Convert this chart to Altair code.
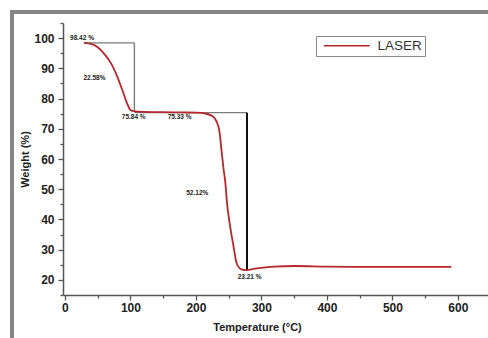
import altair as alt
import pandas as pd

# TGA curve of the LASER sample: temperature (°C) vs residual weight (%)
temp = [29, 40, 50, 60, 70, 80, 88, 95, 100, 104, 120, 150, 180, 200, 215,
        225, 232, 236, 239, 242, 245, 247, 252, 257, 262, 267, 272, 276,
        285, 300, 320, 350, 400, 450, 500, 550, 590]
weight = [98.42, 98.1, 97.0, 94.8, 91.8, 87.2, 82.6, 78.3, 76.2, 75.84, 75.6,
          75.5, 75.4, 75.33, 75.0, 74.2, 72.2, 69.0, 63.0, 57.0, 52.0, 46.5,
          38.0, 31.6, 25.6, 23.8, 23.3, 23.21, 23.5, 24.0, 24.4, 24.6, 24.4,
          24.3, 24.3, 24.3, 24.3]

# step construction lines marking the two weight-loss stages
step_x = [29, 106, 106, 278]
step_x2 = [106, 106, 278, 278]
step_y = [98.42, 98.42, 75.33, 75.33]
step_y2 = [98.42, 75.84, 75.33, 23.21]
step_col = ["#7a7a7a", "#7a7a7a", "#7a7a7a", "#111111"]

# annotations
ann_text = ["98.42 %", "22.58%", "75.84 %", "75.33 %", "52.12%", "23.21 %"]
ann_x = [26, 45, 105, 175, 202, 282]
ann_y = [100.0, 86.8, 73.9, 73.9, 48.8, 21.0]

curve = pd.DataFrame({"T": temp, "W": weight, "series": "LASER"})
steps = pd.DataFrame({"x": step_x, "x2": step_x2, "y": step_y, "y2": step_y2,
                      "c": step_col})
ann = pd.DataFrame({"T": ann_x, "W": ann_y, "t": ann_text})

W_PLOT = 425
H_PLOT = 272

xs = alt.Scale(domain=[-3, 646], nice=False, zero=False)
ys = alt.Scale(domain=[15, 105], nice=False, zero=False)

x_axis = alt.Axis(
    title="Temperature (°C)",
    values=list(range(0, 601, 50)),
    labelExpr="datum.value % 100 == 0 ? datum.label : ''",
    tickSize={"condition": {"test": "datum.value % 100 != 0", "value": 3}, "value": 5},
    labelPadding=2, labelOverlap=False,
    titleX=194, titleY=32, titleAlign="center", titleBaseline="middle",
    grid=False,
)
y_axis = alt.Axis(
    title="Weight (%)",
    values=list(range(15, 106, 5)),
    labelExpr="datum.value % 10 == 0 ? datum.label : ''",
    tickSize={"condition": {"test": "datum.value % 10 != 0", "value": 3}, "value": 5},
    labelPadding=4, labelOverlap=False,
    titleX=-38, titleY=136, titleAlign="center", titleBaseline="middle",
    titleAngle=270,
    grid=False,
)

# a long horizontal stroke as the legend swatch, kept short in row height
swatch = "M-4.6,0H4.6"

line = alt.Chart(curve).mark_line(strokeWidth=1.8, interpolate="monotone").encode(
    x=alt.X("T:Q", scale=xs, axis=x_axis),
    y=alt.Y("W:Q", scale=ys, axis=y_axis),
    color=alt.Color(
        "series:N",
        scale=alt.Scale(domain=["LASER"], range=["#b5282c"]),
        legend=alt.Legend(
            title=None, orient="none", legendX=253, legendY=13,
            symbolType=swatch, symbolSize=100, symbolStrokeWidth=1.6,
            symbolOffset=21,
            labelFont="Liberation Sans", labelFontSize=13.5, labelColor="#333",
            labelOffset=24, labelExpr="datum.label + '  '",
            strokeColor="#8a8a8a", fillColor="white",
            padding=3,
        ),
    ),
)

rules = alt.Chart(steps).mark_rule().encode(
    x=alt.X("x:Q", scale=xs, axis=x_axis), x2="x2",
    y=alt.Y("y:Q", scale=ys, axis=y_axis), y2="y2",
    stroke=alt.Stroke("c:N", scale=None, legend=None),
    strokeWidth=alt.condition("datum.c == '#111111'", alt.value(2), alt.value(1.4)),
)

labels = alt.Chart(ann).mark_text(
    font="Liberation Sans", fontWeight="bold", fontSize=6.5, color="#222"
).encode(
    x=alt.X("T:Q", scale=xs, axis=x_axis),
    y=alt.Y("W:Q", scale=ys, axis=y_axis),
    text="t:N",
)

frame_df = pd.DataFrame({"k": [0]})
frame_top = alt.Chart(frame_df).mark_rect(color="#858585").encode(
    x=alt.value(-53), x2=alt.value(W_PLOT), y=alt.value(-13), y2=alt.value(-9)
)
frame_left = alt.Chart(frame_df).mark_rect(color="#858585").encode(
    x=alt.value(-53), x2=alt.value(-49), y=alt.value(-13), y2=alt.value(315)
)

chart = alt.layer(rules, line, labels, frame_top, frame_left).resolve_scale(
    color="independent", stroke="independent"
).properties(
    width=W_PLOT, height=H_PLOT,
    autosize=alt.AutoSizeParams(type="none"),
    padding={"left": 63, "top": 23, "right": 0, "bottom": 43},
    background="white",
).configure_view(stroke=None).configure_axis(
    domainColor="#555", domainWidth=1.5, tickColor="#555", tickWidth=1.3,
    labelFont="Liberation Sans", labelFontWeight="bold", labelFontSize=12,
    labelColor="#222",
    titleFont="Liberation Sans", titleFontWeight="bold", titleFontSize=11,
    titleColor="#222",
)

chart.save("out.html", embed_options={"renderer": "svg", "actions": False})
